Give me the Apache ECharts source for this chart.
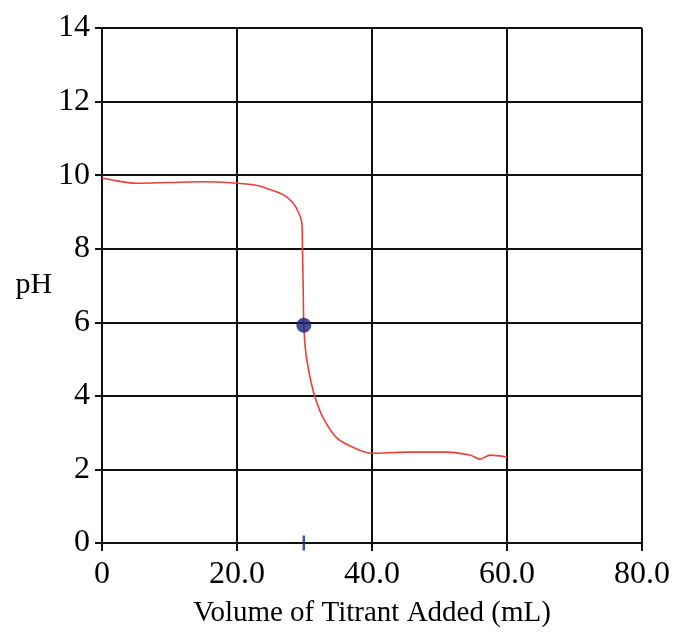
<!DOCTYPE html>
<html>
<head>
<meta charset="utf-8">
<script src="https://cdn.jsdelivr.net/npm/echarts@6/dist/echarts.min.js"></script>
<style>
  html, body { margin: 0; padding: 0; background: #fff; }
  #chart { width: 675px; height: 635px; }
</style>
</head>
<body>
<div id="chart"></div>
<script>
// titration curve (volume mL, pH)
const volume = [0, 2, 5, 10, 15, 20, 23, 25, 27, 28.3, 29.2, 29.6, 29.7, 29.8, 29.9, 30.2, 30.9, 31.6, 32.7, 34.8, 37.8, 40, 45, 51, 54.5, 56, 57.5, 60]
const pH = [9.92, 9.85, 9.78, 9.8, 9.82, 9.78, 9.72, 9.6, 9.45, 9.24, 8.95, 8.7, 8.0, 7.0, 5.92, 5.16, 4.43, 3.94, 3.42, 2.85, 2.55, 2.44, 2.47, 2.47, 2.39, 2.28, 2.39, 2.34]
// equivalence point and its mark on the volume axis
const eqPoint = [29.9, 5.92]
const eqTick = [29.9, 0]

const xTicks = [0, 20, 40, 60, 80]
const yTicks = [0, 2, 4, 6, 8, 10, 12, 14]

const font = 'Liberation Serif'
const curve = volume.map((v, i) => [v, pH[i]])

const chart = echarts.init(document.getElementById('chart'))
chart.setOption({
  backgroundColor: '#fff',
  animation: false,
  grid: { left: 102, right: 33, top: 28, bottom: 92, outerBoundsMode: 'none' },
  xAxis: {
    type: 'value',
    min: xTicks[0],
    max: xTicks[xTicks.length - 1],
    interval: 20,
    name: 'Volume of Titrant Added (mL)',
    nameLocation: 'middle',
    nameGap: 56,
    nameTextStyle: { fontFamily: font, fontSize: 29, color: '#000' },
    axisLine: { lineStyle: { color: '#111', width: 2 } },
    axisTick: { show: true, length: 8, lineStyle: { color: '#111', width: 2 } },
    axisLabel: {
      fontFamily: font,
      fontSize: 32,
      color: '#000',
      margin: 16,
      formatter: v => v === 0 ? '0' : v.toFixed(1)
    },
    splitLine: { show: true, lineStyle: { color: '#111', width: 2 } }
  },
  yAxis: {
    type: 'value',
    min: yTicks[0],
    max: yTicks[yTicks.length - 1],
    interval: 2,
    name: 'pH',
    nameLocation: 'middle',
    nameRotate: 0,
    nameGap: 47,
    nameTextStyle: { fontFamily: font, fontSize: 30, color: '#000' },
    axisLine: { lineStyle: { color: '#111', width: 2 } },
    axisTick: { show: true, length: 7, lineStyle: { color: '#111', width: 2 } },
    axisLabel: { fontFamily: font, fontSize: 32, color: '#000', margin: 12 },
    splitLine: { show: true, lineStyle: { color: '#111', width: 2 } }
  },
  series: [{
    type: 'line',
    data: curve,
    smooth: 0.3,
    showSymbol: false,
    lineStyle: { color: '#e8403c', width: 1.6 },
    z: 3
  }, {
    type: 'scatter',
    data: [eqPoint],
    symbolSize: 15,
    itemStyle: { color: '#17237a' },
    z: 4
  }, {
    type: 'scatter',
    data: [eqTick],
    symbol: 'rect',
    symbolSize: [2.5, 15],
    clip: false,
    itemStyle: { color: '#17237a' },
    z: 4
  }]
})
</script>
</body>
</html>
